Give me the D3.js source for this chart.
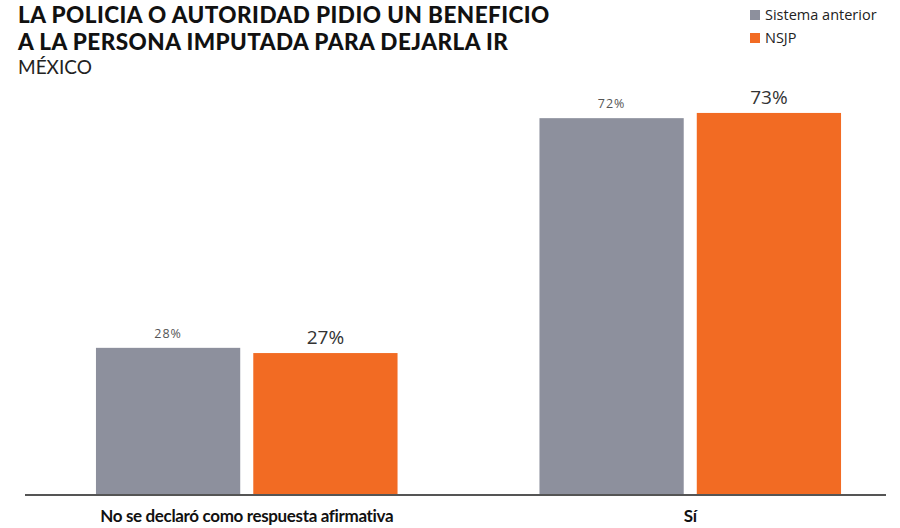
<!DOCTYPE html>
<html>
<head>
<meta charset="utf-8">
<script src="https://cdn.jsdelivr.net/npm/d3@7.9.0/dist/d3.min.js"></script>
<style>
  body { margin: 0; background: #fff; }
  svg { display: block; }
</style>
</head>
<body>
<svg id="chart" width="900" height="528"></svg>
<script>
// Data
const categories = ['No se declaró como respuesta afirmativa', 'Sí'];
const series = ['Sistema anterior', 'NSJP'];
const sistemaAnterior = [28, 72];
const nsjp = [27, 73];
const colors = ['#8d909d', '#f26b23'];

const svg = d3.select('#chart');

// Scales
const y = d3.scaleLinear().domain([0, 100]).range([494, -28]);
const x = d3.scaleBand().domain(categories).range([25, 912])
    .paddingInner(0.32).paddingOuter(0.16);
const xInner = d3.scaleBand().domain(series).range([0, x.bandwidth()])
    .paddingInner(0.083);

const rows = categories.map((c, i) => ({
    cat: c,
    values: [
        { s: series[0], v: sistemaAnterior[i] },
        { s: series[1], v: nsjp[i] }
    ]
}));

// Title
const titleLines = ['LA POLICIA O AUTORIDAD PIDIO UN BENEFICIO', 'A LA PERSONA IMPUTADA PARA DEJARLA IR'];
titleLines.forEach((t, i) => {
    svg.append('text').attr('x', 18).attr('y', 23 + i * 27)
        .attr('font-family', 'Lato').attr('font-weight', 900).attr('font-size', 22.5)
        .attr('letter-spacing', 0.45)
        .attr('fill', '#111')
        .text(t);
});
svg.append('text').attr('x', 18).attr('y', 74)
    .attr('font-family', 'Lato').attr('font-size', 19)
    .attr('fill', '#222')
    .text('MÉXICO');

// Legend
series.forEach((s, i) => {
    const g = svg.append('g').attr('transform', `translate(750, ${10 + i * 23})`);
    g.append('rect').attr('width', 10).attr('height', 10).attr('fill', colors[i]);
    g.append('text').attr('x', 15).attr('y', 10)
        .attr('font-family', 'Open Sans').attr('font-size', 14.5)
        .attr('fill', '#222').text(s);
});

// Bars
const groups = svg.selectAll('g.group').data(rows).join('g')
    .attr('class', 'group')
    .attr('transform', d => `translate(${x(d.cat)},0)`);

groups.selectAll('rect').data(d => d.values).join('rect')
    .attr('x', d => xInner(d.s))
    .attr('y', d => y(d.v))
    .attr('width', xInner.bandwidth())
    .attr('height', d => y(0) - y(d.v))
    .attr('fill', (d, i) => colors[i]);

// Value labels
groups.selectAll('text.val').data(d => d.values).join('text')
    .attr('class', 'val')
    .attr('x', d => xInner(d.s) + xInner.bandwidth() / 2)
    .attr('y', (d, i) => y(d.v) - (i === 0 ? 10 : 9))
    .attr('text-anchor', 'middle')
    .attr('font-family', 'Open Sans')
    .attr('font-size', (d, i) => i === 0 ? 12.5 : 19)
    .attr('font-weight', (d, i) => i === 0 ? 400 : 500)
    .attr('letter-spacing', (d, i) => i === 0 ? 1 : 0)
    .attr('fill', (d, i) => i === 0 ? '#555' : '#333')
    .text(d => d.v + '%');

// Baseline
svg.append('line')
    .attr('x1', 25).attr('x2', 886)
    .attr('y1', y(0) + 1).attr('y2', y(0) + 1)
    .attr('stroke', '#555').attr('stroke-width', 2);

// Category labels
const xAxis = svg.append('g').attr('transform', `translate(0, ${y(0)})`)
    .call(d3.axisBottom(x).tickSize(0).tickPadding(0));
xAxis.select('.domain').remove();
xAxis.selectAll('text')
    .attr('y', 28)
    .attr('dy', 0)
    .attr('font-family', 'Lato')
    .attr('font-weight', 700)
    .attr('font-size', 17)
    .attr('letter-spacing', -0.35)
    .attr('fill', '#111');
</script>
</body>
</html>
